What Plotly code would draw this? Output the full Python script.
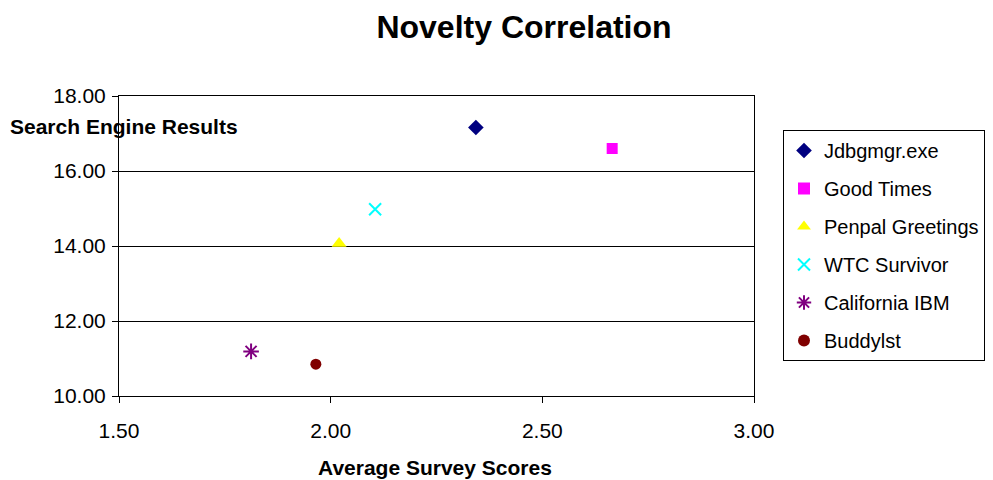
import plotly.graph_objects as go

names = ["Jdbgmgr.exe", "Good Times", "Penpal Greetings", "WTC Survivor", "California IBM", "Buddylst"]
survey_scores = [2.343, 2.665, 2.02, 2.105, 1.812, 1.965]
search_results = [17.16, 16.6, 14.07, 14.98, 11.19, 10.85]
colors = ["#000080", "#FF00FF", "#FFFF00", "#00FFFF", "#800080", "#800000"]
symbols = ["diamond", "square", "triangle-up", "x-thin-open", "asterisk-open", "circle"]
sizes = [12, 11, 13, 12, 13, 11]
x_ticks = [1.5, 2.0, 2.5, 3.0]
y_ticks = [10, 12, 14, 16, 18]

FONT = "Liberation Sans, Arial, sans-serif"

fig = go.Figure()
for i, n in enumerate(names):
    open_sym = symbols[i].endswith("open")
    fig.add_trace(go.Scatter(
        x=[survey_scores[i]], y=[search_results[i]], mode="markers", name=n,
        legendgroup=n,
        marker=dict(symbol=symbols[i], size=sizes[i], color=colors[i],
                    line=dict(width=2 if open_sym else 0, color=colors[i])),
    ))

fig.update_layout(
    width=993, height=480,
    margin=dict(l=119, r=239, t=96, b=84, autoexpand=False),
    paper_bgcolor="white", plot_bgcolor="white",
    font=dict(family=FONT, size=21, color="black"),
    title=dict(text="<b>Novelty Correlation</b>", x=524 / 993, xanchor="center",
               y=1 - 27 / 480, yanchor="middle", font=dict(size=32, family=FONT)),
    showlegend=True,
    legend=dict(xref="container", yref="container", x=783 / 993, xanchor="left",
                y=1 - 130 / 480, yanchor="top",
                bordercolor="black", borderwidth=1, bgcolor="white",
                font=dict(size=20, family=FONT), tracegroupgap=9,
                itemsizing="constant"),
    xaxis=dict(range=[1.5, 3.0], tickvals=x_ticks, tickformat=".2f",
               showgrid=False, zeroline=False, showline=True, linecolor="black",
               linewidth=1, mirror=True, ticks="outside", ticklen=6,
               tickcolor="black", ticklabelstandoff=10),
    yaxis=dict(range=[10, 18], tickvals=y_ticks, tickformat=".2f",
               showgrid=True, gridcolor="black", gridwidth=1, zeroline=False,
               showline=True, linecolor="black", linewidth=1, mirror=True,
               ticks="outside", ticklen=6, tickcolor="black", ticklabelstandoff=2),
    annotations=[
        dict(text="<b>Search Engine Results</b>", xref="paper", yref="paper",
             x=-111 / 635, y=(396 - 126) / 300, xanchor="left", yanchor="middle",
             showarrow=False, font=dict(size=21, family=FONT)),
        dict(text="<b>Average Survey Scores</b>", xref="paper", yref="paper",
             x=(435 - 119) / 635, y=-(467 - 396) / 300, xanchor="center", yanchor="middle",
             showarrow=False, font=dict(size=21, family=FONT)),
    ],
)

fig.write_html("out.html")
